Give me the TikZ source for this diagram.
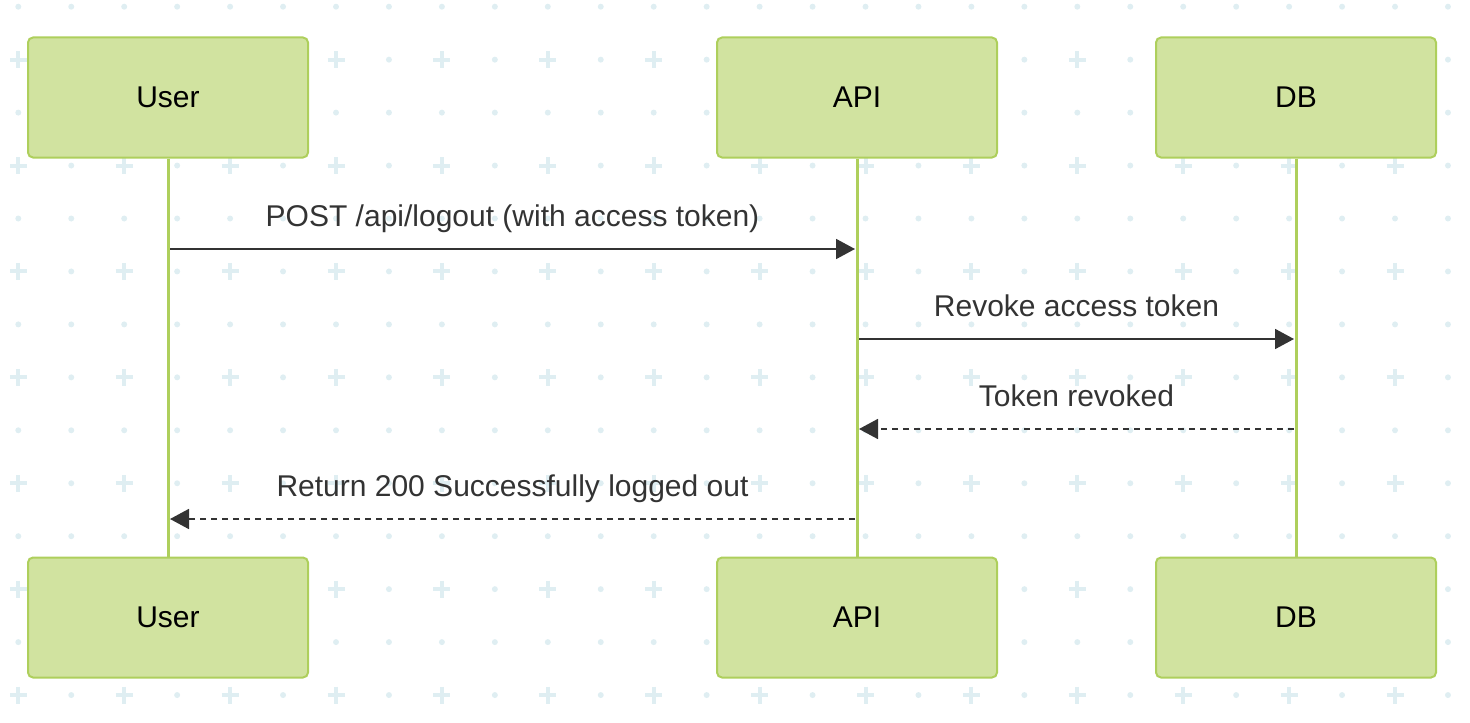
\documentclass[tikz,border=0pt]{standalone}
\usepackage{fontspec}
\setmainfont{Liberation Sans}
\usepackage{tikz}
\usetikzlibrary{arrows.meta,positioning}
\definecolor{actorfill}{HTML}{D1E3A0}
\definecolor{actorline}{HTML}{AECF5C}
\definecolor{gridmark}{HTML}{DFEEF2}
\definecolor{msgcolor}{HTML}{333333}
\tikzset{actor node/.style={rectangle, draw=actorline, fill=actorfill, line width=1pt,
    rounded corners=2.5pt, minimum width=140pt, minimum height=60pt,
    font=\fontsize{15pt}{18pt}\selectfont, text=black}}
\tikzset{life line/.style={draw=actorline, line width=1.5pt}}
\tikzset{message edge/.style={draw=msgcolor, line width=0.9pt, shorten >=1pt, shorten <=1pt,
    -{Triangle[length=9.5pt, width=10pt]}}}
\tikzset{reply edge/.style={message edge, dash pattern=on 3pt off 2.5pt}}
\tikzset{message label/.style={anchor=base, yshift=11.5pt, text=msgcolor,
    font=\fontsize{15pt}{18pt}\selectfont}}
\tikzset{grid dot/.style={fill=gridmark}}
\tikzset{grid plus/.style={draw=gridmark, line width=2pt}}

\begin{document}
\begin{tikzpicture}
  [x=0.5pt, y=-0.5pt]
  \useasboundingbox (0,0) rectangle (1470,722);

  % background pattern
  \begin{scope}
    \foreach \row in {0,2,...,12} {
      \foreach \col in {0,...,27} {
        \fill [grid dot] ({18.3+52.95*\col}, {6.7+52.95*\row}) circle (1.5pt);
      }
    }
    \foreach \row in {1,3,...,13} {
      \foreach \col in {1,3,...,27} {
        \fill [grid dot] ({18.3+52.95*\col}, {6.7+52.95*\row}) circle (1.5pt);
      }
      \foreach \col in {0,2,...,26} {
        \draw [grid plus] ({18.3+52.95*\col-8.5}, {6.7+52.95*\row}) -- ++(17,0)
                          ({18.3+52.95*\col}, {6.7+52.95*\row-8.5}) -- ++(0,17);
      }
    }
  \end{scope}

  \begin{scope}
    \node [actor node] (user top)    at ( 168,  97.5) {User};
    \node [actor node] (api top)     at ( 857,  97.5) {API};
    \node [actor node] (db top)      at (1296,  97.5) {DB};
    \node [actor node] (user bottom) at ( 168, 617.5) {User};
    \node [actor node] (api bottom)  at ( 857, 617.5) {API};
    \node [actor node] (db bottom)   at (1296, 617.5) {DB};

    \coordinate (post)    at (0, 249);
    \coordinate (revoke)  at (0, 339);
    \coordinate (revoked) at (0, 429);
    \coordinate (logout)  at (0, 519);

    \draw [life line] (user top) -- (user bottom);
    \draw [life line] (api top)  -- (api bottom);
    \draw [life line] (db top)   -- (db bottom);

    \draw [message edge] (user top |- post)   -- node [message label] {POST /api/logout (with access token)} (api top |- post);
    \draw [message edge] (api top  |- revoke) -- node [message label] {Revoke access token} (db top |- revoke);
    \draw [reply edge]   (db top   |- revoked) -- node [message label] {Token revoked} (api top |- revoked);
    \draw [reply edge]   (api top  |- logout) -- node [message label] {Return 200 Successfully logged out} (user top |- logout);
  \end{scope}
\end{tikzpicture}
\end{document}
